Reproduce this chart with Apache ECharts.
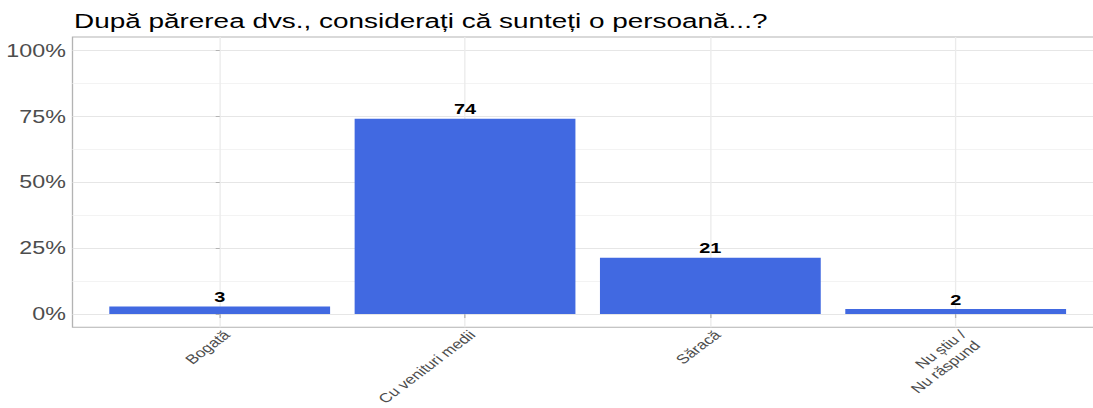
<!DOCTYPE html>
<html>
<head>
<meta charset="utf-8">
<script src="https://cdn.jsdelivr.net/npm/echarts@6/dist/echarts.min.js"></script>
<style>
html,body{margin:0;padding:0;background:#fff;overflow:hidden;}
#wrap{width:1093px;height:408px;overflow:hidden;position:relative;}
#chart{height:408px;position:absolute;left:0;top:0;transform-origin:0 0;}
</style>
</head>
<body>
<div id="wrap"><div id="chart"></div></div>
<script>
// ---- data ----
const titleText = 'După părerea dvs., considerați că sunteți o persoană...?';
const categories = ['Bogată', 'Cu venituri medii', 'Săracă', 'Nu știu /\nNu răspund'];
const values = [2.8, 74.0, 21.3, 1.9];
const yTicks = [0, 25, 50, 75, 100];
const yMinorTicks = [12.5, 37.5, 62.5, 87.5];
const catPositions = [0, 1, 2, 3];

// ---- layout (reference appears horizontally stretched) ----
const SX = 1.33;
const W = 1093 / SX;
const el = document.getElementById('chart');
el.style.width = W + 'px';
el.style.transform = 'scaleX(' + SX + ')';

const unitPx = 245.33 / SX;
const gridLeft = 72.5 / SX;
const gridWidth = 4.2 * unitPx;

const chart = echarts.init(el, null, {renderer: 'svg'});
chart.setOption({
  animation: false,
  backgroundColor: '#ffffff',
  title: {
    text: titleText,
    left: 74 / SX,
    top: 10,
    padding: 0,
    textStyle: {fontFamily: 'Liberation Sans, Arial, sans-serif', fontSize: 21, fontWeight: 'normal', color: '#000000'}
  },
  grid: {
    left: gridLeft, top: 37, width: gridWidth, bottom: 408 - 327.2,
    show: true, borderColor: '#b3b3b3', borderWidth: 1, backgroundColor: 'transparent',
    containLabel: false, outerBoundsMode: 'none'
  },
  xAxis: {
    type: 'value', min: -0.6, max: 3.6,
    axisLine: {show: false},
    axisTick: {show: true, customValues: catPositions, length: 4, lineStyle: {color: '#b3b3b3'}},
    splitLine: {show: true, lineStyle: {color: '#ebebeb', width: 1}},
    axisLabel: {
      customValues: catPositions,
      formatter: v => categories[Math.round(v)] || '',
      rotate: 45, margin: 0,
      align: 'right', verticalAlign: 'top',
      fontFamily: 'Liberation Sans, Arial, sans-serif', fontSize: 13, color: '#4d4d4d', lineHeight: 15
    }
  },
  yAxis: [{
    type: 'value', min: -5, max: 105,
    axisLine: {show: false},
    axisTick: {show: true, customValues: yTicks, length: 3, lineStyle: {color: '#b3b3b3'}},
    splitLine: {show: true, lineStyle: {color: '#e6e6e6', width: 1}},
    axisLabel: {
      customValues: yTicks,
      formatter: v => v + '%', margin: 5,
      fontFamily: 'Liberation Sans, Arial, sans-serif', fontSize: 17.5, color: '#4d4d4d'
    }
  }, {
    type: 'value', min: -5, max: 105, position: 'left',
    axisLine: {show: false},
    axisTick: {show: false, customValues: yMinorTicks},
    axisLabel: {show: false, customValues: yMinorTicks},
    splitLine: {show: true, lineStyle: {color: '#f3f3f3', width: 1}}
  }],
  series: [{
    type: 'bar',
    xAxisIndex: 0, yAxisIndex: 0,
    data: values.map((v, i) => [catPositions[i], v]),
    barWidth: 0.9 * unitPx,
    itemStyle: {color: '#4169E1'},
    label: {
      show: true, position: 'top', distance: 2,
      formatter: p => String(Math.round(p.value[1])),
      fontFamily: 'Liberation Sans, Arial, sans-serif', fontSize: 15, fontWeight: 'bold', color: '#000000'
    }
  }]
});
</script>
</body>
</html>
